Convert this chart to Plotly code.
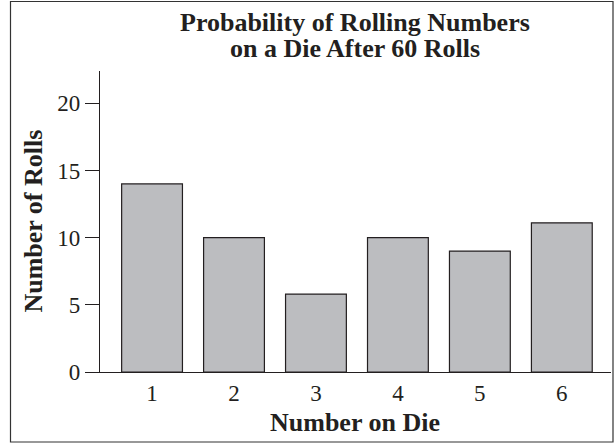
import plotly.graph_objects as go

die_numbers = [1, 2, 3, 4, 5, 6]
roll_counts = [14, 10, 5.8, 10, 9, 11.1]
y_ticks = [0, 5, 10, 15, 20]

title_lines = ["Probability of Rolling Numbers", "on a Die After 60 Rolls"]
x_title = "Number on Die"
y_title = "Number of Rolls"

SERIF = "Liberation Serif, Times New Roman, serif"
INK = "#231f20"

fig = go.Figure(
    go.Bar(
        x=die_numbers,
        y=roll_counts,
        width=0.742,
        marker=dict(color="#bcbdc0", line=dict(color=INK, width=1.2)),
    )
)

L, R, T, B = 100, 3, 71, 72
W, H = 614, 444
pw, ph = W - L - R, H - T - B


def px_x(px):
    return (px - L) / pw


def px_y(py):
    return (H - B - py) / ph


fig.update_layout(
    width=W,
    height=H,
    margin=dict(l=L, r=R, t=T, b=B, autoexpand=False),
    paper_bgcolor="white",
    plot_bgcolor="white",
    showlegend=False,
    font=dict(family=SERIF, color=INK, size=23),
    bargap=0.26,
)

fig.update_xaxes(
    range=[0.365, 6.6],
    tickvals=die_numbers,
    ticktext=[str(v) for v in die_numbers],
    ticks="",
    showline=True,
    linecolor=INK,
    linewidth=1.2,
    showgrid=False,
    zeroline=False,
    automargin=False,
    tickfont=dict(size=23, family=SERIF, color=INK),
)

fig.update_yaxes(
    range=[0, 22.4],
    tickvals=y_ticks,
    ticks="outside",
    ticklen=14,
    tickwidth=1.2,
    tickcolor=INK,
    showline=True,
    linecolor=INK,
    linewidth=1.2,
    showgrid=False,
    zeroline=False,
    automargin=False,
    tickfont=dict(size=23, family=SERIF, color=INK),
)

bold = dict(family=SERIF, size=26, color=INK, weight="bold")
# chart title (two lines)
fig.add_annotation(text=title_lines[0], xref="paper", yref="paper", x=px_x(355), y=px_y(22.6),
                   xanchor="center", yanchor="middle", showarrow=False, font=bold)
fig.add_annotation(text=title_lines[1], xref="paper", yref="paper", x=px_x(355), y=px_y(48),
                   xanchor="center", yanchor="middle", showarrow=False, font=bold)
# axis titles
fig.add_annotation(text=x_title, xref="paper", yref="paper", x=px_x(355), y=px_y(422.6),
                   xanchor="center", yanchor="middle", showarrow=False, font=bold)
fig.add_annotation(text=y_title, xref="paper", yref="paper", x=px_x(32.6), y=px_y(221),
                   xanchor="center", yanchor="middle", showarrow=False, font=bold, textangle=-90)

# outer border around the whole figure
fig.add_shape(
    type="rect",
    xref="paper",
    yref="paper",
    x0=px_x(10.5),
    x1=px_x(613),
    y0=px_y(442),
    y1=px_y(1.5),
    line=dict(color="#333333", width=1.2),
    fillcolor="rgba(0,0,0,0)",
    layer="below",
)

fig.write_html(
    "out.html",
    config={"displayModeBar": False},
    post_script="document.body.style.margin='0';document.body.style.overflow='hidden';",
)
